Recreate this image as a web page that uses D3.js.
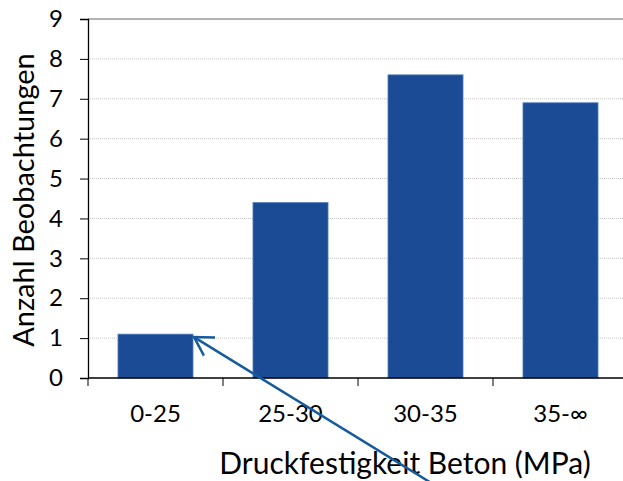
<!DOCTYPE html>
<html>
<head>
<meta charset="utf-8">
<script src="https://cdn.jsdelivr.net/npm/d3@7"></script>
<style>
  body { margin: 0; background: #fff; }
  text { font-family: Lato, "Open Sans", sans-serif; fill: #000; }
</style>
</head>
<body>
<div id="chart"></div>
<script>
// data
var categories = ["0-25", "25-30", "30-35", "35-\u221e"];
var counts = [1.1, 4.4, 7.6, 6.9];
var yTicks = [0, 1, 2, 3, 4, 5, 6, 7, 8, 9];
var yTitle = "Anzahl Beobachtungen";
var xTitle = "Druckfestigkeit Beton (MPa)";

var width = 623, height = 481;
var margin = {top: 19, right: -5, bottom: 103, left: 88};
var w = width - margin.left - margin.right,
    h = height - margin.top - margin.bottom;

var svg = d3.select("#chart")
  .append("svg")
    .attr("width", width)
    .attr("height", height);

var g = svg.append("g")
  .attr("transform", "translate(" + margin.left + "," + margin.top + ")");

var x = d3.scaleBand()
  .domain(categories)
  .range([0, w])
  .paddingInner(0.444)
  .paddingOuter(0.222);

var y = d3.scaleLinear()
  .domain([0, 9])
  .range([h, 0]);

// gridlines
g.selectAll(".grid")
  .data(yTicks.filter(function(d) { return d > 0 && d < 9; }))
  .enter()
  .append("line")
    .attr("x1", 0)
    .attr("x2", w)
    .attr("y1", function(d) { return y(d); })
    .attr("y2", function(d) { return y(d); })
    .attr("stroke", "#c4c4c4")
    .attr("stroke-width", 1)
    .attr("stroke-dasharray", "1,1");

// top border line
g.append("line")
  .attr("x1", 0).attr("x2", w)
  .attr("y1", y(9)).attr("y2", y(9))
  .attr("stroke", "#9a9a9a")
  .attr("stroke-width", 1.5);

// bars
g.selectAll(".bar")
  .data(counts)
  .enter()
  .append("rect")
    .attr("x", function(d, i) { return x(categories[i]); })
    .attr("y", function(d) { return y(d); })
    .attr("width", x.bandwidth())
    .attr("height", function(d) { return h - y(d); })
    .attr("fill", "#1b4b95")
    .attr("stroke", "#5b84be")
    .attr("stroke-width", 0.8);

// y axis
var yAxis = g.append("g")
  .call(d3.axisLeft(y).tickValues(yTicks).tickSize(8).tickPadding(17));
yAxis.select(".domain").attr("stroke", "#000").attr("stroke-width", 1.3);
yAxis.selectAll(".tick line").attr("stroke", "#000");
yAxis.selectAll("text")
  .style("font-size", "24px")
  .attr("fill", "#000");

// x axis with ticks on category boundaries
var step = x.step();
var xAxis = g.append("g")
  .attr("transform", "translate(0," + h + ")");
xAxis.append("line")
  .attr("x1", 0).attr("x2", w)
  .attr("stroke", "#000")
  .attr("stroke-width", 1.3);
xAxis.selectAll(".xtick")
  .data(d3.range(categories.length + 1))
  .enter()
  .append("line")
    .attr("x1", function(i) { return i * step; })
    .attr("x2", function(i) { return i * step; })
    .attr("y1", 0)
    .attr("y2", 8)
    .attr("stroke", "#000");
xAxis.selectAll(".xlabel")
  .data(categories)
  .enter()
  .append("text")
    .attr("x", function(d) { return x(d) + x.bandwidth() / 2; })
    .attr("y", 44)
    .attr("text-anchor", "middle")
    .style("font-size", "24px")
    .text(function(d) { return d; });

// axis titles
svg.append("text")
  .attr("transform", "translate(34,200) rotate(-90)")
  .attr("text-anchor", "middle")
  .style("font-size", "29px")
  .text(yTitle);

svg.append("text")
  .attr("x", 405)
  .attr("y", 474)
  .attr("text-anchor", "middle")
  .style("font-size", "30px")
  .text(xTitle);

// arrow pointing at the first bar
var tip = [margin.left + x(categories[0]) + x.bandwidth() + 1, margin.top + y(counts[0]) + 3];
var ang = Math.atan2(481 - tip[1], 428 - tip[0]);
var tail = [tip[0] + 320 * Math.cos(ang), tip[1] + 320 * Math.sin(ang)];
var headLen = 21, spread = 0.53;
var arrow = svg.append("g")
  .attr("stroke", "#165b9c")
  .attr("stroke-width", 2.5)
  .attr("fill", "none")
  .attr("stroke-linecap", "butt");
arrow.append("line")
  .attr("x1", tip[0]).attr("y1", tip[1])
  .attr("x2", tail[0]).attr("y2", tail[1]);
arrow.append("polyline")
  .attr("points", [
    [tip[0] + headLen * Math.cos(ang - spread), tip[1] + headLen * Math.sin(ang - spread)],
    tip,
    [tip[0] + headLen * Math.cos(ang + spread), tip[1] + headLen * Math.sin(ang + spread)]
  ].map(function(p) { return p.join(","); }).join(" "));
</script>
</body>
</html>
